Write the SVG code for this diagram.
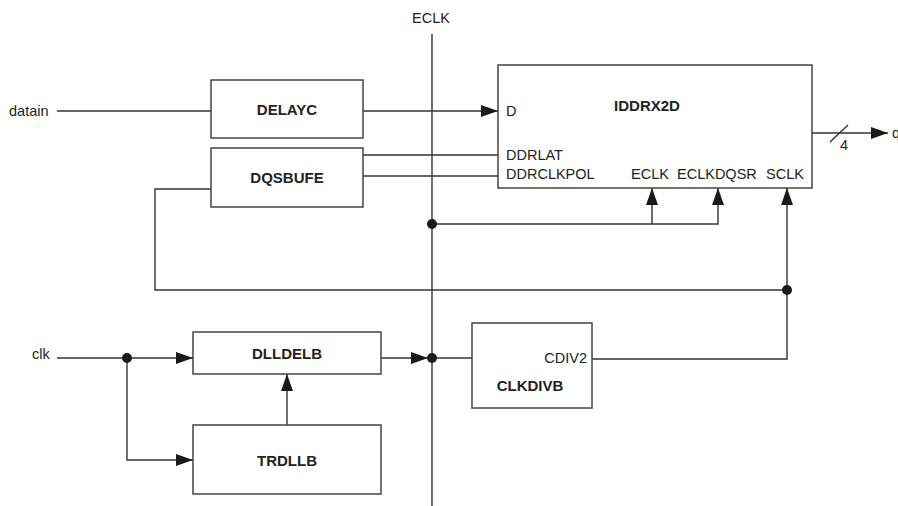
<svg xmlns="http://www.w3.org/2000/svg" width="898" height="506" viewBox="0 0 898 506">
<style>
.box{fill:#fff;stroke:#444;stroke-width:1.5}
.w{fill:none;stroke:#333;stroke-width:1.4}
.t{font-family:"Liberation Sans",Arial,sans-serif;font-size:14.5px;fill:#222}
.b{font-family:"Liberation Sans",Arial,sans-serif;font-size:15px;font-weight:bold;fill:#222}
.dot{fill:#1a1a1a}
</style>
<defs>
<marker id="ar" markerUnits="userSpaceOnUse" markerWidth="17" markerHeight="12" refX="17" refY="6" orient="auto">
<path d="M0,0 L17,6 L0,12 z" fill="#1a1a1a"/>
</marker>
</defs>
<g id="connectors">
<line class="w" x1="432" y1="34" x2="432" y2="506"/>
<line class="w" x1="57" y1="111" x2="211" y2="111"/>
<line class="w" x1="363" y1="111" x2="498" y2="111" marker-end="url(#ar)"/>
<line class="w" x1="363" y1="155" x2="498" y2="155"/>
<line class="w" x1="363" y1="176" x2="498" y2="176"/>
<polyline class="w" points="211,189 155,189 155,290 787,290"/>
<polyline class="w" points="432,224 718,224 718,188" marker-end="url(#ar)"/>
<line class="w" x1="652" y1="224" x2="652" y2="188" marker-end="url(#ar)"/>
<polyline class="w" points="592,359 787,359 787,188" marker-end="url(#ar)"/>
<line class="w" x1="812" y1="133" x2="888" y2="133" marker-end="url(#ar)"/>
<line class="w" x1="830" y1="142" x2="848" y2="125"/>
<line class="w" x1="57" y1="358" x2="193" y2="358" marker-end="url(#ar)"/>
<polyline class="w" points="127,358 127,460 193,460" marker-end="url(#ar)"/>
<line class="w" x1="287" y1="425" x2="287" y2="374" marker-end="url(#ar)"/>
<line class="w" x1="381" y1="358" x2="428" y2="358" marker-end="url(#ar)"/>
<line class="w" x1="432" y1="358" x2="472" y2="358"/>
<circle class="dot" cx="432" cy="224" r="5"/>
<circle class="dot" cx="787" cy="290" r="5"/>
<circle class="dot" cx="127" cy="358" r="5"/>
<circle class="dot" cx="432" cy="358" r="5"/>
</g>
<g id="labels">
<text class="t" x="412" y="23">ECLK</text>
<text class="t" x="9" y="116">datain</text>
<text class="t" x="32" y="359">clk</text>
<text class="t" x="840" y="150">4</text>
<text class="t" x="892" y="138">q</text>
</g>
<g id="DELAYC">
<rect class="box" x="211" y="80" width="152" height="58"/>
<text class="b" x="287" y="114.5" text-anchor="middle">DELAYC</text>
</g>
<g id="DQSBUFE">
<rect class="box" x="211" y="148" width="152" height="59"/>
<text class="b" x="287" y="183" text-anchor="middle">DQSBUFE</text>
</g>
<g id="IDDRX2D">
<rect class="box" x="498" y="65" width="314" height="123"/>
<text class="b" x="647" y="111" text-anchor="middle">IDDRX2D</text>
<text class="t" x="506" y="116">D</text>
<text class="t" x="506" y="160">DDRLAT</text>
<text class="t" x="506" y="179">DDRCLKPOL</text>
<text class="t" x="631" y="179">ECLK</text>
<text class="t" x="677" y="179">ECLKDQSR</text>
<text class="t" x="766" y="179">SCLK</text>
</g>
<g id="DLLDELB">
<rect class="box" x="193" y="332" width="188" height="42"/>
<text class="b" x="287" y="358.5" text-anchor="middle">DLLDELB</text>
</g>
<g id="TRDLLB">
<rect class="box" x="193" y="425" width="188" height="69"/>
<text class="b" x="287" y="466" text-anchor="middle">TRDLLB</text>
</g>
<g id="CLKDIVB">
<rect class="box" x="472" y="323" width="120" height="85"/>
<text class="t" x="587" y="363" text-anchor="end">CDIV2</text>
<text class="b" x="530" y="391" text-anchor="middle">CLKDIVB</text>
</g>
</svg>
